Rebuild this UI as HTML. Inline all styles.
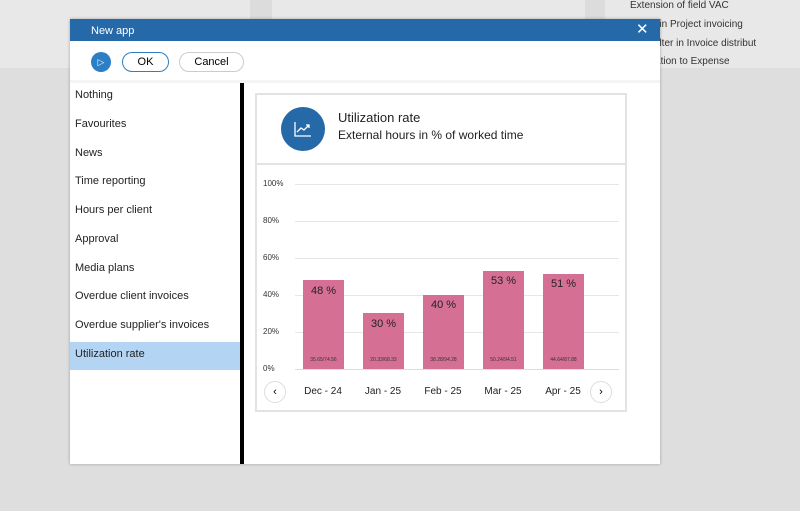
<!DOCTYPE html>
<html><head><style>
body{margin:0;width:800px;height:511px;background:#dedede;position:relative;overflow:hidden;font-family:"Liberation Sans",sans-serif;}
.a{position:absolute}
.li{position:absolute;left:75px;font-size:11px;color:#222}
.yl{position:absolute;left:263px;font-size:8px;color:#333}
.g{position:absolute;left:295px;width:324px;height:1px;background:#e6e6e6}
.bar{position:absolute;width:41px;background:#d66f94;bottom:142px}
.bt{position:absolute;width:41px;text-align:center;font-size:11px;color:#222}
.bs{position:absolute;width:41px;text-align:center;font-size:5px;color:#333;top:357px}
.xl{position:absolute;width:60px;text-align:center;font-size:10px;color:#222;top:386px}
</style></head><body>
<div class="a" style="left:0;top:0;width:800px;height:68px;background:#e8e8e8"></div>
<div class="a" style="left:250px;top:0;width:22px;height:68px;background:#dcdcdc"></div>
<div class="a" style="left:585px;top:0;width:20px;height:68px;background:#dcdcdc"></div>
<div class="a" style="left:630px;top:0;font-size:10px;color:#333">Extension of field VAC</div>
<div class="a" style="left:630px;top:19px;font-size:10px;color:#333">Fields in Project invoicing</div>
<div class="a" style="left:630px;top:38px;font-size:10px;color:#333">mine filter in Invoice distribut</div>
<div class="a" style="left:630px;top:56px;font-size:10px;color:#333">integration to Expense</div>

<div class="a" style="left:70px;top:19px;width:590px;height:445px;background:#fff;box-shadow:0 0 3px rgba(0,0,0,.3)"></div>
<div class="a" style="left:70px;top:19px;width:590px;height:22px;background:#2569a9"></div>
<div class="a" style="left:91px;top:25px;font-size:11px;color:#fff">New app</div>
<div class="a" style="left:636px;top:20px;font-size:15px;color:#fff">✕</div>
<div class="a" style="left:91px;top:52px;width:20px;height:20px;border-radius:50%;background:#2c7fc5;color:#fff;font-size:9px;text-align:center;line-height:20px">▷</div>
<div class="a" style="left:122px;top:52px;width:45px;height:18px;border:1px solid #2c7fc5;border-radius:10px;text-align:center;line-height:18px;font-size:11px">OK</div>
<div class="a" style="left:179px;top:52px;width:63px;height:18px;border:1px solid #ccc;border-radius:10px;text-align:center;line-height:18px;font-size:11px">Cancel</div>
<div class="a" style="left:70px;top:80px;width:590px;height:3px;background:#f4f4f4"></div>
<div class="a" style="left:70px;top:342px;width:170px;height:28px;background:#b3d4f2"></div>
<div class="li" style="top:89px">Nothing</div>
<div class="li" style="top:118px">Favourites</div>
<div class="li" style="top:147px">News</div>
<div class="li" style="top:175px">Time reporting</div>
<div class="li" style="top:204px">Hours per client</div>
<div class="li" style="top:233px">Approval</div>
<div class="li" style="top:262px">Media plans</div>
<div class="li" style="top:290px">Overdue client invoices</div>
<div class="li" style="top:319px">Overdue supplier's invoices</div>
<div class="li" style="top:348px">Utilization rate</div>
<div class="a" style="left:240px;top:83px;width:4px;height:381px;background:#000"></div>

<div class="a" style="left:255px;top:93px;width:368px;height:315px;border:2px solid #e3e3e3"></div>
<div class="a" style="left:257px;top:163px;width:368px;height:2px;background:#e3e3e3"></div>
<div class="a" style="left:281px;top:107px;width:44px;height:44px;border-radius:50%;background:#2569a9"></div>
<svg class="a" style="left:293px;top:120px" width="20" height="18"><path d="M2 2V16H18M4 12L8 8L11 10L16 5M13 5H16V8" stroke="#fff" stroke-width="1.3" fill="none"/></svg>
<div class="a" style="left:338px;top:110px;font-size:13px;color:#222">Utilization rate</div>
<div class="a" style="left:338px;top:128px;font-size:12px;color:#222">External hours in % of worked time</div>

<div class="g" style="top:184px"></div><div class="g" style="top:221px"></div><div class="g" style="top:258px"></div><div class="g" style="top:295px"></div><div class="g" style="top:332px"></div><div class="g" style="top:369px;background:#ddd"></div>
<div class="yl" style="top:179px">100%</div><div class="yl" style="top:216px">80%</div><div class="yl" style="top:253px">60%</div><div class="yl" style="top:290px">40%</div><div class="yl" style="top:327px">20%</div><div class="yl" style="top:364px">0%</div>

<div class="bar" style="left:303px;height:89px"></div><div class="bt" style="left:303px;top:285px">48 %</div><div class="bs" style="left:303px">35.65/74.56</div>
<div class="bar" style="left:363px;height:56px"></div><div class="bt" style="left:363px;top:318px">30 %</div><div class="bs" style="left:363px">20.33/68.33</div>
<div class="bar" style="left:423px;height:74px"></div><div class="bt" style="left:423px;top:299px">40 %</div><div class="bs" style="left:423px">38.28/94.28</div>
<div class="bar" style="left:483px;height:98px"></div><div class="bt" style="left:483px;top:275px">53 %</div><div class="bs" style="left:483px">50.24/94.51</div>
<div class="bar" style="left:543px;height:95px"></div><div class="bt" style="left:543px;top:278px">51 %</div><div class="bs" style="left:543px">44.64/87.88</div>

<div class="a" style="left:264px;top:381px;width:20px;height:20px;border:1px solid #ddd;border-radius:50%;text-align:center;line-height:20px;font-size:11px">‹</div>
<div class="a" style="left:590px;top:381px;width:20px;height:20px;border:1px solid #ddd;border-radius:50%;text-align:center;line-height:20px;font-size:11px">›</div>
<div class="xl" style="left:293px">Dec - 24</div>
<div class="xl" style="left:353px">Jan - 25</div>
<div class="xl" style="left:413px">Feb - 25</div>
<div class="xl" style="left:473px">Mar - 25</div>
<div class="xl" style="left:533px">Apr - 25</div>
</body></html>
